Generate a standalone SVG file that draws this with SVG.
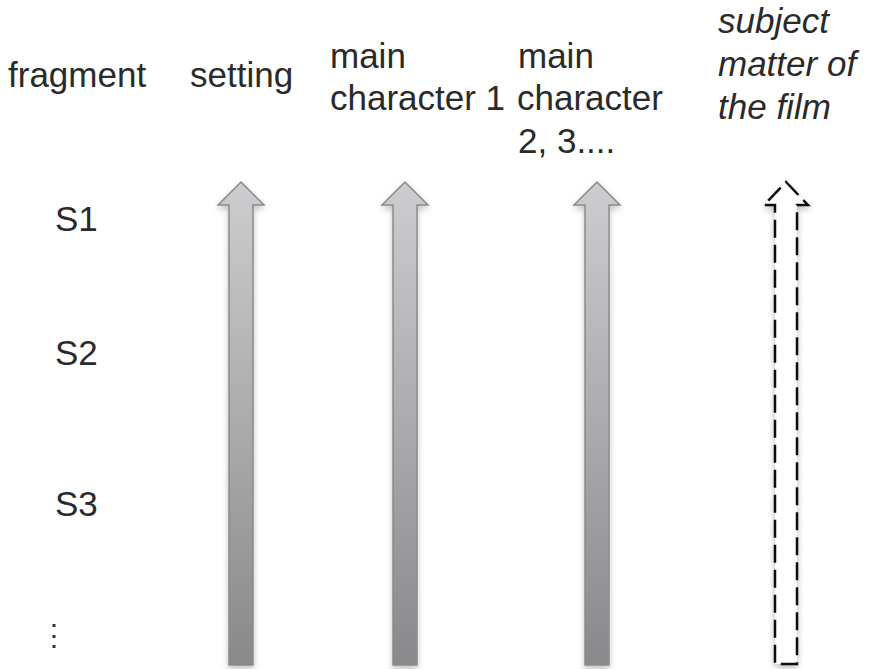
<svg xmlns="http://www.w3.org/2000/svg" width="869" height="669" viewBox="0 0 869 669">
  <style>
    .t { font-family: "Liberation Sans", Arial, sans-serif; font-size: 35px; fill: #2a2a2a; }
    .i { font-style: italic; }
    .solid { fill: url(#g); stroke: #8a8a8c; stroke-width: 1.5; filter: url(#sh); }
    .dash { fill: #fff; stroke: #111; stroke-width: 2.5; stroke-dasharray: 18 7; filter: url(#sh); }
  </style>
  <defs>
    <linearGradient id="g" x1="0" y1="0" x2="0" y2="1">
      <stop offset="0" stop-color="#cdcdcf"/>
      <stop offset="1" stop-color="#89898b"/>
    </linearGradient>
    <filter id="sh" x="-50%" y="-10%" width="200%" height="120%">
      <feGaussianBlur in="SourceAlpha" stdDeviation="3"/>
      <feOffset dx="0" dy="3"/>
      <feComponentTransfer><feFuncA type="linear" slope="0.25"/></feComponentTransfer>
      <feMerge><feMergeNode/><feMergeNode in="SourceGraphic"/></feMerge>
    </filter>
  </defs>

  <g id="headers">
    <text class="t" x="8" y="87">fragment</text>
    <text class="t" x="190" y="87">setting</text>
    <text class="t" x="330" y="68">main</text>
    <text class="t" x="330" y="110">character 1</text>
    <text class="t" x="518" y="68">main</text>
    <text class="t" x="517" y="110">character</text>
    <text class="t" x="518" y="153">2, 3....</text>
    <text class="t i" x="718" y="33">subject</text>
    <text class="t i" x="718" y="76">matter of</text>
    <text class="t i" x="718" y="119">the film</text>
  </g>

  <g id="fragments">
    <text class="t" x="55" y="231">S1</text>
    <text class="t" x="55" y="365">S2</text>
    <text class="t" x="55" y="516">S3</text>
    <g fill="#333">
      <rect x="52.5" y="624" width="3" height="3"/>
      <rect x="52.5" y="635" width="3" height="3"/>
      <rect x="52.5" y="645" width="3" height="3"/>
    </g>
  </g>

  <g id="connectors">
    <path id="arrow-setting" class="solid" d="M241,182 L264,205 L253,205 L253,665 L229,665 L229,205 L218,205 Z"/>
    <path id="arrow-char1" class="solid" d="M405,182 L428,205 L417,205 L417,665 L393,665 L393,205 L382,205 Z"/>
    <path id="arrow-char2" class="solid" d="M597,182 L620,205 L609,205 L609,665 L585,665 L585,205 L574,205 Z"/>
    <path id="arrow-subject" class="dash" d="M786,182 L808,205 L797,205 L797,664 L775,664 L775,205 L764,205 Z"/>
  </g>
</svg>
